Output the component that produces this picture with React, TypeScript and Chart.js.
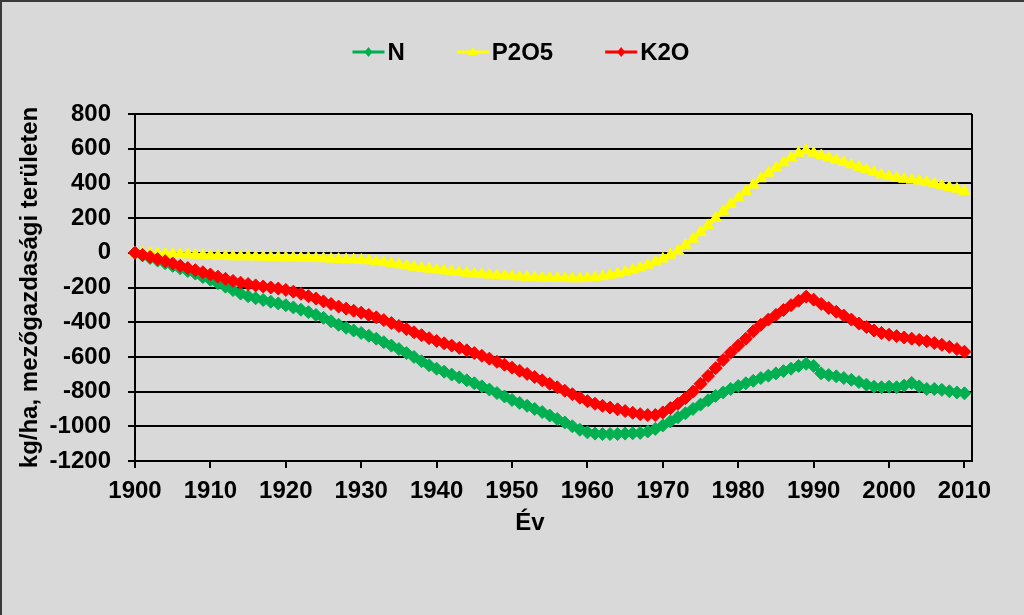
import React, { useEffect, useRef } from 'react';
import { Chart, registerables } from 'chart.js';

Chart.register(...registerables);

const years: number[] = Array.from({ length: 111 }, (_, i) => 1900 + i);

const nValues = [
  0, -15, -30, -45, -60, -75, -90, -105, -120, -140,
  -155, -175, -195, -215, -235, -250, -262, -272, -282, -292,
  -302, -315, -328, -342, -358, -375, -395, -415, -432, -448,
  -462, -478, -495, -515, -535, -555, -578, -600, -625, -648,
  -668, -685, -702, -718, -735, -752, -770, -788, -808, -828,
  -848, -865, -882, -900, -918, -938, -958, -978, -1000, -1020,
  -1035, -1042, -1045, -1045, -1045, -1042, -1040, -1038, -1030, -1015,
  -995, -972, -948, -925, -900, -875, -850, -825, -805, -785,
  -768, -752, -738, -722, -708, -695, -682, -668, -652, -640,
  -652, -695, -705, -712, -722, -732, -745, -760, -772, -775,
  -772, -775, -765, -750, -770, -785, -785, -790, -798, -805,
  -810,
];

const p2o5Values = [
  0, 0, -2, -4, -6, -8, -9, -10, -12, -14,
  -16, -18, -20, -22, -22, -22, -23, -24, -25, -26,
  -27, -28, -29, -30, -31, -33, -35, -37, -38, -40,
  -42, -45, -50, -55, -60, -68, -75, -82, -88, -93,
  -98, -103, -108, -112, -116, -120, -124, -127, -130, -133,
  -136, -138, -140, -142, -144, -145, -146, -147, -148, -148,
  -146, -142, -136, -128, -120, -110, -98, -85, -70, -52,
  -35, -12, 12, 45, 80, 118, 158, 200, 240, 280,
  318, 355, 392, 428, 460, 490, 520, 548, 575, 590,
  575, 560, 548, 535, 522, 508, 494, 480, 465, 450,
  440, 432, 425, 420, 415, 408, 398, 388, 378, 368,
  355,
];

const k2oValues = [
  0, -12, -24, -36, -48, -62, -75, -88, -100, -112,
  -125, -138, -150, -162, -172, -180, -188, -194, -200, -206,
  -214, -224, -236, -250, -264, -280, -295, -310, -322, -334,
  -345, -358, -372, -388, -405, -422, -440, -458, -475, -492,
  -508, -522, -535, -548, -562, -578, -594, -610, -628, -645,
  -662, -680, -698, -716, -735, -755, -775, -795, -815, -835,
  -855, -870, -882, -892, -902, -912, -922, -930, -935, -935,
  -920, -895, -870, -838, -800, -755, -710, -665, -618, -575,
  -535, -495, -452, -415, -385, -358, -330, -302, -276, -253,
  -270, -295, -318, -340, -362, -385, -408, -428, -448, -462,
  -472, -480, -488, -495, -502, -510, -520, -530, -542, -555,
  -570,
];

const yTicks = [-1200, -1000, -800, -600, -400, -200, 0, 200, 400, 600, 800];
const xTicks = [1900, 1910, 1920, 1930, 1940, 1950, 1960, 1970, 1980, 1990, 2000, 2010];
const seriesNames = ['N', 'P2O5', 'K2O'];
const seriesColors = ['#00b050', '#ffff00', '#ff0000'];
const seriesMarkers = ['rectRot', 'triangle', 'rectRot'];
const yTitle = 'kg/ha, mezőgazdasági területen';
const xTitle = 'Év';

const FONT = "'Liberation Sans', Arial, sans-serif";
const FSIZE = 24;
const BG = '#d9d9d9';

function drawMarker(ctx: CanvasRenderingContext2D, style: string, x: number, y: number, r: number) {
  ctx.beginPath();
  if (style === 'triangle') {
    ctx.moveTo(x, y - r);
    ctx.lineTo(x + r, y + r * 0.6);
    ctx.lineTo(x - r, y + r * 0.6);
  } else {
    ctx.moveTo(x, y - r);
    ctx.lineTo(x + r * 0.8, y);
    ctx.lineTo(x, y + r);
    ctx.lineTo(x - r * 0.8, y);
  }
  ctx.closePath();
  ctx.fill();
}

const decorPlugin = {
  id: 'decor',
  beforeDraw(chart: any) {
    const ctx = chart.ctx as CanvasRenderingContext2D;
    ctx.save();
    ctx.fillStyle = BG;
    ctx.fillRect(0, 0, chart.width, chart.height);
    ctx.fillStyle = '#3a3a3a';
    ctx.fillRect(0, 0, chart.width, 2);
    ctx.fillRect(0, 0, 2, chart.height);
    ctx.restore();
  },
  beforeDatasetsDraw(chart: any) {
    const ctx = chart.ctx as CanvasRenderingContext2D;
    const a = chart.chartArea;
    ctx.save();
    ctx.strokeStyle = '#000';
    ctx.lineWidth = 2;
    ctx.beginPath();
    ctx.moveTo(Math.round(a.right), a.top);
    ctx.lineTo(Math.round(a.right), a.bottom);
    ctx.stroke();
    ctx.restore();
  },
  afterDraw(chart: any) {
    const ctx = chart.ctx as CanvasRenderingContext2D;
    ctx.save();
    ctx.font = `bold ${FSIZE}px ${FONT}`;
    ctx.fillStyle = '#000';
    ctx.textAlign = 'center';
    ctx.textBaseline = 'middle';
    ctx.fillText(xTitle, 530, 523);
    const symW = 32;
    const symGap = 3;
    const itemGap = 52;
    const widths = seriesNames.map((n) => symW + symGap + ctx.measureText(n).width);
    const total = widths.reduce((s, w) => s + w, 0) + itemGap * (seriesNames.length - 1);
    let x = 521 - total / 2;
    const y = 52;
    seriesNames.forEach((name, i) => {
      ctx.strokeStyle = seriesColors[i];
      ctx.fillStyle = seriesColors[i];
      ctx.lineWidth = 3;
      ctx.beginPath();
      ctx.moveTo(x, y);
      ctx.lineTo(x + symW, y);
      ctx.stroke();
      drawMarker(ctx, seriesMarkers[i], x + symW / 2, y, 5);
      ctx.fillStyle = '#000';
      ctx.textAlign = 'left';
      ctx.textBaseline = 'middle';
      ctx.fillText(name, x + symW + symGap, y + 1);
      x += widths[i] + itemGap;
    });
    ctx.restore();
  },
};

export default function App() {
  const canvasRef = useRef<HTMLCanvasElement | null>(null);

  useEffect(() => {
    document.body.style.margin = '0';
    document.body.style.background = BG;
    const canvas = canvasRef.current;
    if (!canvas) return;
    const seriesValues = [nValues, p2o5Values, k2oValues];
    const orders = [1, 2, 0];
    const chart = new Chart(canvas, {
      type: 'line',
      data: {
        datasets: seriesNames.map((name, i) => ({
          label: name,
          data: years.map((yr, j) => ({ x: yr, y: seriesValues[i][j] })),
          borderColor: seriesColors[i],
          backgroundColor: seriesColors[i],
          borderWidth: 4,
          pointStyle: seriesMarkers[i] as any,
          pointRadius: seriesMarkers[i] === 'triangle' ? 6.5 : 6.5,
          pointBorderWidth: 1,
          pointBorderColor: seriesColors[i],
          pointBackgroundColor: seriesColors[i],
          tension: 0,
          clip: false as any,
          order: orders[i],
        })),
      },
      options: {
        responsive: false,
        animation: false,
        events: [],
        layout: { padding: { top: 114, right: 52, bottom: 0, left: 0 } },
        plugins: {
          legend: { display: false },
          tooltip: { enabled: false },
        },
        scales: {
          x: {
            type: 'linear',
            min: 1900,
            max: 2011,
            afterBuildTicks: (scale: any) => {
              scale.ticks = xTicks.map((v) => ({ value: v }));
            },
            afterFit: (scale: any) => {
              scale.height = 154;
            },
            grid: {
              drawOnChartArea: false,
              drawTicks: true,
              tickLength: 7,
              tickColor: '#000',
              lineWidth: 2,
            },
            border: { display: true, color: '#000', width: 2 },
            ticks: {
              color: '#000',
              font: { family: FONT, size: FSIZE, weight: 'bold' },
              padding: 9,
              maxRotation: 0,
              autoSkip: false,
              callback: (v: any) => String(v),
            },
          },
          y: {
            type: 'linear',
            min: -1200,
            max: 800,
            afterBuildTicks: (scale: any) => {
              scale.ticks = yTicks.map((v) => ({ value: v }));
            },
            afterFit: (scale: any) => {
              scale.width = 135;
            },
            grid: {
              color: '#000',
              lineWidth: 2,
              drawTicks: true,
              tickLength: 7,
              tickColor: '#000',
            },
            border: { display: true, color: '#000', width: 2 },
            ticks: {
              color: '#000',
              font: { family: FONT, size: FSIZE, weight: 'bold' },
              padding: 17,
              autoSkip: false,
              callback: (v: any) => String(v),
            },
            title: {
              display: true,
              text: yTitle,
              color: '#000',
              font: { family: FONT, size: FSIZE, weight: 'bold' },
              padding: { top: 16, bottom: 0 },
            },
          },
        },
      },
      plugins: [decorPlugin],
    });
    return () => chart.destroy();
  }, []);

  return (
    <div style={{ position: 'absolute', left: 0, top: 0, width: 1024, height: 615, background: BG }}>
      <canvas ref={canvasRef} width={1024} height={615} style={{ display: 'block' }} />
    </div>
  );
}
